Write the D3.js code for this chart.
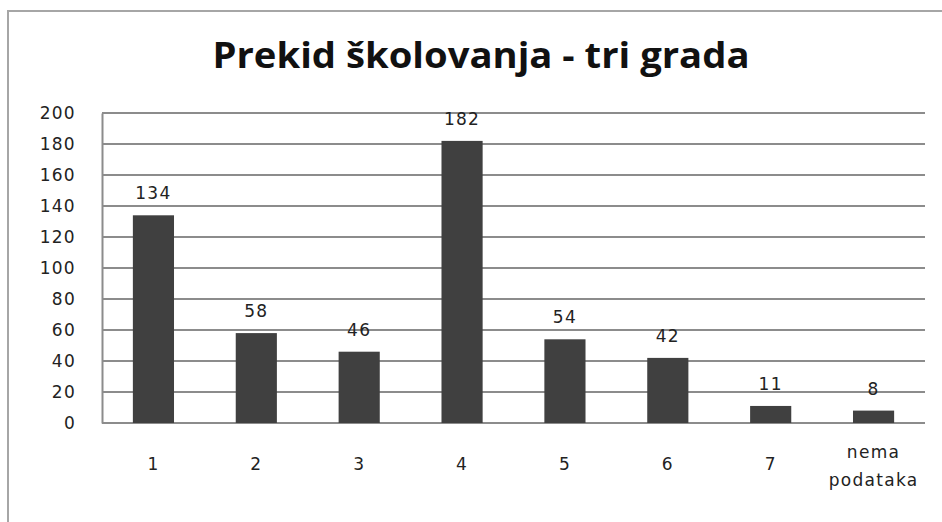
<!DOCTYPE html>
<html>
<head>
<meta charset="utf-8">
<script src="https://cdn.jsdelivr.net/npm/d3@7"></script>
<style>
  body { margin: 0; background: white; }
</style>
</head>
<body>
<div id="chart"></div>
<script>
// Data
const categories = ["1", "2", "3", "4", "5", "6", "7", "nema podataka"];
const values = [134, 58, 46, 182, 54, 42, 11, 8];
const yTicks = [0, 20, 40, 60, 80, 100, 120, 140, 160, 180, 200];
const title = "Prekid školovanja - tri grada";

const width = 942,
    height = 522;

const margin = { top: 113, bottom: 99, left: 102, right: 17 };

const labelFont = 'DejaVu Sans';
const labelSize = '17px';
const labelSpacing = '1.3px';

const svg = d3.select('#chart')
  .append('svg')
  .attr('width', width)
  .attr('height', height)
  .style('background', 'white');

// outer frame
svg.append('rect')
  .attr('x', 8)
  .attr('y', 11)
  .attr('width', width + 10)
  .attr('height', height + 10)
  .attr('fill', 'none')
  .attr('stroke', '#a6a6a6')
  .attr('stroke-width', 2);

// Title
svg.append('text')
  .text(title)
  .attr('x', 481)
  .attr('y', 68)
  .attr('text-anchor', 'middle')
  .attr('textLength', 537)
  .attr('lengthAdjust', 'spacingAndGlyphs')
  .style('font-family', 'Open Sans')
  .style('font-weight', 'bold')
  .style('font-size', '35px')
  .attr('fill', '#111');

// Scales
const xScale = d3.scaleBand()
  .domain(categories)
  .range([margin.left, width - margin.right])
  .paddingInner(0.6)
  .paddingOuter(0.3);

const yScale = d3.scaleLinear()
  .domain([0, 200])
  .range([height - margin.bottom, margin.top]);

// Gridlines
svg.append('g')
  .selectAll('line')
  .data(yTicks)
  .join('line')
  .attr('x1', margin.left)
  .attr('x2', width - margin.right)
  .attr('y1', d => yScale(d))
  .attr('y2', d => yScale(d))
  .attr('stroke', '#8c8c8c')
  .attr('stroke-width', 2);

// Y axis
const yaxis = svg.append('g')
  .attr('transform', `translate(${margin.left},0)`)
  .call(d3.axisLeft(yScale).tickValues(yTicks).tickSize(0).tickPadding(26));
yaxis.select('.domain').attr('stroke', '#8c8c8c').attr('stroke-width', 2);
yaxis.selectAll('text')
  .style('font-family', labelFont)
  .style('font-size', labelSize)
  .style('letter-spacing', labelSpacing)
  .attr('fill', '#222');

// X axis labels
const xaxis = svg.append('g')
  .attr('transform', `translate(0,${height - margin.bottom})`)
  .call(d3.axisBottom(xScale).tickSize(0).tickPadding(35));
xaxis.select('.domain').remove();
xaxis.selectAll('text')
  .style('font-family', labelFont)
  .style('font-size', labelSize)
  .style('letter-spacing', labelSpacing)
  .attr('fill', '#222')
  .each(function(d) {
    const words = d.split(' ');
    if (words.length > 1) {
      const t = d3.select(this).text(null);
      words.forEach((w, i) => {
        t.append('tspan')
          .attr('x', 0)
          .attr('dy', i === 0 ? 0 : 28)
          .text(w);
      });
    }
  });

// Bars
svg.append('g')
  .selectAll('rect')
  .data(values)
  .join('rect')
  .attr('x', (d, i) => xScale(categories[i]))
  .attr('y', d => yScale(d))
  .attr('width', xScale.bandwidth())
  .attr('height', d => yScale(0) - yScale(d))
  .attr('fill', '#404040');

// Value labels
svg.append('g')
  .selectAll('text')
  .data(values)
  .join('text')
  .text(d => d)
  .attr('x', (d, i) => xScale(categories[i]) + xScale.bandwidth() / 2)
  .attr('y', d => yScale(d) - 16)
  .attr('text-anchor', 'middle')
  .style('font-family', labelFont)
  .style('font-size', labelSize)
  .style('letter-spacing', labelSpacing)
  .attr('fill', '#222');
</script>
</body>
</html>
